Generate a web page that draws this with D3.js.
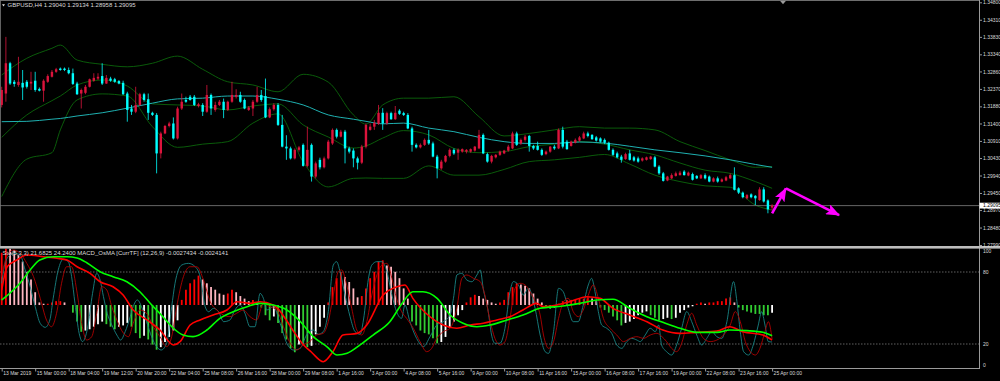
<!DOCTYPE html>
<html>
<head>
<meta charset="utf-8">
<script src="https://cdn.jsdelivr.net/npm/d3@7"></script>
<style>
body { margin: 0; background: #000; }
svg { display: block; }
</style>
</head>
<body>
<script>
// ---- data ----
var symbolTitle = 'GBPUSD,H4  1.29040 1.29134 1.28958 1.29095';
var subTitle = 'Sto(5,3,3) 21.6825 24.2400  MACD_OsMA [CurrTF] (12,26,9) -0.0027434 -0.0024141';
var lastBid = 1.29095;

// open, high, low, close per H4 bar
var candles = [
  [1.3192,1.3243,1.3185,1.3234],[1.3224,1.3383,1.3201,1.3309],[1.3309,1.3313,1.3248,1.3252],[1.3257,1.3262,1.3243,1.3251],
  [1.3248,1.3327,1.3243,1.3257],[1.3254,1.3290,1.3206,1.3241],[1.3257,1.3262,1.3238,1.3243],[1.3252,1.3285,1.3234,1.3257],
  [1.3260,1.3285,1.3229,1.3234],[1.3237,1.3241,1.3230,1.3232],[1.3232,1.3264,1.3201,1.3260],[1.3257,1.3278,1.3254,1.3273],
  [1.3271,1.3290,1.3269,1.3285],[1.3285,1.3296,1.3282,1.3292],[1.3294,1.3297,1.3288,1.3290],[1.3294,1.3297,1.3287,1.3290],
  [1.3290,1.3297,1.3278,1.3281],[1.3281,1.3294,1.3248,1.3251],[1.3252,1.3257,1.3220,1.3222],[1.3224,1.3238,1.3182,1.3234],
  [1.3226,1.3248,1.3222,1.3243],[1.3243,1.3266,1.3241,1.3264],[1.3260,1.3281,1.3257,1.3268],[1.3266,1.3281,1.3262,1.3271],
  [1.3273,1.3309,1.3248,1.3252],[1.3252,1.3276,1.3251,1.3268],[1.3266,1.3271,1.3257,1.3260],[1.3264,1.3268,1.3254,1.3257],
  [1.3259,1.3262,1.3250,1.3252],[1.3254,1.3260,1.3220,1.3222],[1.3224,1.3229,1.3145,1.3178],[1.3182,1.3192,1.3164,1.3173],
  [1.3173,1.3243,1.3169,1.3192],[1.3192,1.3226,1.3189,1.3222],[1.3222,1.3226,1.3201,1.3206],[1.3208,1.3224,1.3150,1.3170],
  [1.3170,1.3173,1.3161,1.3164],[1.3164,1.3169,1.3000,1.3056],[1.3056,1.3117,1.3042,1.3112],[1.3112,1.3136,1.3110,1.3133],
  [1.3133,1.3145,1.3129,1.3140],[1.3140,1.3157,1.3095,1.3098],[1.3098,1.3187,1.3095,1.3182],[1.3182,1.3224,1.3178,1.3201],
  [1.3206,1.3215,1.3198,1.3201],[1.3215,1.3220,1.3204,1.3206],[1.3215,1.3220,1.3189,1.3192],[1.3189,1.3198,1.3185,1.3194],
  [1.3192,1.3197,1.3161,1.3173],[1.3173,1.3248,1.3170,1.3220],[1.3220,1.3224,1.3164,1.3182],[1.3178,1.3201,1.3173,1.3192],
  [1.3192,1.3206,1.3189,1.3201],[1.3201,1.3210,1.3155,1.3178],[1.3178,1.3204,1.3175,1.3201],[1.3201,1.3257,1.3198,1.3220],
  [1.3215,1.3236,1.3210,1.3220],[1.3220,1.3229,1.3198,1.3201],[1.3206,1.3210,1.3180,1.3182],[1.3178,1.3189,1.3175,1.3185],
  [1.3182,1.3206,1.3161,1.3201],[1.3201,1.3243,1.3198,1.3220],[1.3220,1.3234,1.3201,1.3206],[1.3217,1.3266,1.3155,1.3157],
  [1.3157,1.3185,1.3155,1.3180],[1.3180,1.3197,1.3176,1.3192],[1.3192,1.3197,1.3133,1.3136],[1.3136,1.3164,1.3073,1.3075],
  [1.3075,1.3107,1.3038,1.3070],[1.3070,1.3075,1.3039,1.3042],[1.3042,1.3070,1.3039,1.3066],[1.3066,1.3077,1.3061,1.3073],
  [1.3080,1.3084,1.3019,1.3021],[1.3021,1.3131,1.3017,1.3066],[1.3080,1.3084,1.2977,1.2991],[1.2991,1.3033,1.2986,1.3028],
  [1.3038,1.3044,1.3011,1.3017],[1.3017,1.3047,1.3014,1.3042],[1.3042,1.3094,1.3039,1.3089],[1.3084,1.3126,1.3080,1.3122],
  [1.3122,1.3126,1.3098,1.3103],[1.3103,1.3122,1.3101,1.3117],[1.3117,1.3122,1.3028,1.3070],[1.3070,1.3075,1.3056,1.3061],
  [1.3064,1.3070,1.3017,1.3042],[1.3042,1.3047,1.3011,1.3030],[1.3030,1.3080,1.3026,1.3075],[1.3075,1.3140,1.3070,1.3136],
  [1.3122,1.3140,1.3120,1.3131],[1.3131,1.3150,1.3122,1.3142],[1.3139,1.3192,1.3136,1.3170],[1.3170,1.3183,1.3122,1.3140],
  [1.3140,1.3173,1.3136,1.3169],[1.3169,1.3173,1.3150,1.3152],[1.3152,1.3189,1.3150,1.3170],[1.3176,1.3180,1.3164,1.3167],
  [1.3169,1.3173,1.3161,1.3164],[1.3164,1.3169,1.3124,1.3126],[1.3126,1.3131,1.3061,1.3080],[1.3080,1.3084,1.3070,1.3073],
  [1.3073,1.3084,1.3070,1.3080],[1.3080,1.3098,1.3077,1.3094],[1.3094,1.3122,1.3080,1.3084],[1.3084,1.3089,1.3045,1.3047],
  [1.3047,1.3052,1.2986,1.3014],[1.3014,1.3038,1.3010,1.3033],[1.3033,1.3052,1.3030,1.3049],[1.3049,1.3070,1.3045,1.3066],
  [1.3066,1.3070,1.3052,1.3056],[1.3058,1.3070,1.3038,1.3066],[1.3061,1.3070,1.3058,1.3068],[1.3061,1.3068,1.3056,1.3066],
  [1.3061,1.3070,1.3058,1.3068],[1.3064,1.3077,1.3061,1.3075],[1.3070,1.3122,1.3068,1.3108],[1.3108,1.3112,1.3054,1.3056],
  [1.3054,1.3058,1.3030,1.3033],[1.3033,1.3052,1.3028,1.3049],[1.3045,1.3054,1.3042,1.3052],[1.3052,1.3064,1.3049,1.3061],
  [1.3056,1.3066,1.3054,1.3064],[1.3064,1.3080,1.3061,1.3075],[1.3070,1.3117,1.3068,1.3112],[1.3112,1.3117,1.3077,1.3080],
  [1.3084,1.3098,1.3080,1.3094],[1.3094,1.3108,1.3089,1.3103],[1.3105,1.3108,1.3061,1.3077],[1.3077,1.3080,1.3066,1.3070],
  [1.3077,1.3089,1.3064,1.3066],[1.3066,1.3070,1.3049,1.3052],[1.3054,1.3064,1.3051,1.3061],[1.3061,1.3077,1.3058,1.3075],
  [1.3075,1.3080,1.3066,1.3070],[1.3070,1.3126,1.3068,1.3122],[1.3122,1.3131,1.3070,1.3075],[1.3089,1.3094,1.3066,1.3068],
  [1.3077,1.3092,1.3075,1.3089],[1.3086,1.3098,1.3084,1.3094],[1.3092,1.3105,1.3089,1.3101],[1.3098,1.3117,1.3096,1.3112],
  [1.3112,1.3117,1.3101,1.3105],[1.3108,1.3110,1.3094,1.3096],[1.3101,1.3105,1.3089,1.3092],[1.3098,1.3101,1.3086,1.3089],
  [1.3094,1.3098,1.3082,1.3086],[1.3086,1.3089,1.3064,1.3066],[1.3066,1.3070,1.3049,1.3052],[1.3056,1.3061,1.3042,1.3045],
  [1.3047,1.3052,1.3030,1.3038],[1.3040,1.3058,1.3038,1.3054],[1.3056,1.3066,1.3036,1.3038],[1.3045,1.3049,1.3033,1.3036],
  [1.3042,1.3047,1.3030,1.3033],[1.3036,1.3045,1.3033,1.3042],[1.3038,1.3047,1.3036,1.3045],[1.3040,1.3049,1.3038,1.3047],
  [1.3045,1.3049,1.3017,1.3019],[1.3019,1.3023,1.2996,1.3000],[1.3000,1.3004,1.2977,1.2979],[1.2980,1.2993,1.2978,1.2991],
  [1.2986,1.3000,1.2984,1.2995],[1.2993,1.3005,1.2991,1.3000],[1.2995,1.3007,1.2994,1.3002],[1.3005,1.3009,1.2994,1.2995],
  [1.2994,1.3005,1.2992,1.3002],[1.2998,1.3002,1.2980,1.2982],[1.2993,1.2995,1.2984,1.2986],[1.2986,1.2998,1.2984,1.2995],
  [1.2995,1.3000,1.2983,1.2986],[1.2991,1.2994,1.2975,1.2977],[1.2977,1.2989,1.2975,1.2986],[1.2986,1.2991,1.2974,1.2977],
  [1.2977,1.2986,1.2975,1.2983],[1.2980,1.2993,1.2978,1.2989],[1.2986,1.3000,1.2984,1.2995],[1.2995,1.3017,1.2952,1.2954],
  [1.2958,1.2961,1.2942,1.2946],[1.2946,1.2949,1.2930,1.2933],[1.2930,1.2942,1.2927,1.2939],[1.2941,1.2944,1.2930,1.2933],
  [1.2937,1.2939,1.2911,1.2930],[1.2925,1.2961,1.2923,1.2955],[1.2955,1.2961,1.2918,1.2921],[1.2924,1.2927,1.2888,1.2899],
  [1.29040,1.29134,1.28958,1.29095]
];

// bar positions where the band / MA lines were read
var bandIdx = [0,6,12,14,18,24,30,36,42,48,54,60,66,72,78,84,87,91,96,102,108,114,120,126,132,138,144,150,156,162,168,174,180,184];
var bbUpper = [1.3276,1.3323,1.3351,1.3360,1.3318,1.3306,1.3299,1.3309,1.3329,1.3292,1.3257,1.3248,1.3229,1.3278,1.3256,1.3164,1.3138,1.3192,1.3211,1.3211,1.3215,1.3159,1.3105,1.3112,1.3122,1.3131,1.3127,1.3127,1.3122,1.3089,1.3064,1.3038,1.3017,1.3019];
var bbMiddle = [1.3101,1.3164,1.3204,1.3217,1.3248,1.3262,1.3245,1.3195,1.3192,1.3189,1.3178,1.3189,1.3195,1.3136,1.3102,1.3071,1.3077,1.3099,1.3120,1.3108,1.3070,1.3058,1.3061,1.3075,1.3082,1.3089,1.3082,1.3066,1.3052,1.3029,1.3009,1.3000,1.2977,1.2958];
var bbLower = [1.2935,1.3040,1.3058,1.3122,1.3206,1.3223,1.3217,1.3131,1.3073,1.3082,1.3089,1.3141,1.3167,1.3032,1.2962,1.2986,1.2987,1.2986,1.2986,1.3021,1.2995,1.2995,1.3011,1.3033,1.3038,1.3045,1.3053,1.3026,1.2995,1.2977,1.2965,1.2961,1.2911,1.2897];
var maLine = [1.3145,1.3146,1.3152,1.3154,1.3161,1.3170,1.3183,1.3197,1.3209,1.3211,1.3217,1.3217,1.3208,1.3192,1.3164,1.3152,1.3146,1.3139,1.3141,1.3127,1.3117,1.3101,1.3089,1.3084,1.3084,1.3088,1.3085,1.3076,1.3066,1.3058,1.3049,1.3038,1.3025,1.3017];

// OsMA histogram, one value per bar
var osma = [
  0.0041,0.0047,0.0045,0.0043,0.0039,0.0034,0.0026,0.0020,0.0010,0.0002,0.0001,0.0001,0.0002,0.0003,0.0003,0.0002,0.0000,
  -0.0006,-0.0013,-0.0021,-0.0020,-0.0019,-0.0017,-0.0015,-0.0013,-0.0015,-0.0017,-0.0019,-0.0017,-0.0016,-0.0014,-0.0017,
  -0.0022,-0.0026,-0.0024,-0.0027,-0.0031,-0.0035,-0.0033,-0.0029,-0.0025,-0.0020,-0.0012,0.0004,0.0012,0.0017,0.0020,
  0.0023,0.0020,0.0017,0.0014,0.0012,0.0009,0.0008,0.0009,0.0012,0.0010,0.0007,0.0005,0.0003,0.0004,0.0002,-0.0002,
  -0.0008,-0.0012,-0.0009,-0.0014,-0.0022,-0.0027,-0.0034,-0.0037,-0.0031,-0.0031,-0.0033,-0.0032,-0.0023,-0.0017,-0.0010,
  0.0002,0.0014,0.0021,0.0026,0.0022,0.0018,0.0013,0.0006,0.0007,0.0013,0.0021,0.0026,0.0034,0.0035,0.0031,0.0030,0.0026,
  0.0021,0.0013,0.0005,-0.0013,-0.0016,-0.0020,-0.0022,-0.0023,-0.0026,-0.0030,-0.0029,-0.0025,-0.0018,-0.0013,-0.0008,
  -0.0004,0.0002,0.0006,0.0008,0.0007,0.0005,0.0004,0.0002,0.0001,0.0002,0.0004,0.0010,0.0014,0.0017,0.0016,0.0015,0.0013,
  0.0009,0.0005,0.0002,-0.0002,-0.0003,-0.0002,0.0001,0.0003,0.0004,0.0004,0.0004,0.0005,0.0005,0.0006,0.0005,0.0003,
  -0.0002,-0.0004,-0.0006,-0.0009,-0.0012,-0.0016,-0.0014,-0.0013,-0.0011,-0.0008,-0.0006,-0.0005,-0.0008,-0.0010,-0.0012,
  -0.0011,-0.0010,-0.0011,-0.0010,-0.0006,-0.0004,-0.0002,-0.0001,0.0001,0.0002,0.0001,0.0002,0.0002,0.0003,0.0003,0.0005,
  0.0006,0.0002,-0.0002,-0.0004,-0.0005,-0.0006,-0.0007,-0.0007,-0.0008,-0.0008,-0.0006
];

// MACD main and signal lines, [bar, value]
var macdMain = [[0,0.00117],[1.3,0.0030],[3.6,0.00352],[6,0.00392],[10,0.00378],[13.2,0.00366],[15.6,0.00352],[18,0.0030],
  [21.1,0.00248],[23.5,0.00182],[26.6,0.00143],[29,0.00078],[31.4,-0.00039],[34.7,-0.00117],[37.8,-0.00196],[41,-0.00313],
  [42.6,-0.00287],[45,-0.00157],[47.4,-0.00117],[50.5,-0.00078],[53.8,-0.00039],[56.2,0.00026],[59.3,0.00013],[61.7,0.00026],
  [64.8,0],[66,-0.0003],[68,-0.0012],[70,-0.0022],[72,-0.0031],[74,-0.0037],[76.8,-0.00444],[79.1,-0.00366],[81.5,-0.00235],
  [84.9,-0.00222],[87.2,-0.00157],[91.1,0.00078],[94.4,0.00143],[96.3,0.00157],[98.2,0.00052],[102.3,-0.00092],
  [105.4,-0.00157],[108.7,-0.00182],[111.9,-0.00157],[115,-0.00143],[118.3,-0.00117],[121.4,-0.00092],[124.5,-0.00039],
  [127.8,0.00013],[129.3,-0.00013],[132.6,0],[135.7,0.00026],[139.8,0.00065],[142.9,0.00052],[146,-0.00026],[150,-0.00078],
  [154.1,-0.00131],[157.9,-0.00196],[162,-0.00222],[166,-0.00214],[170.8,-0.00204],[173.9,-0.0017],[177,-0.00209],
  [181.8,-0.00235],[184,-0.0027434]];
var macdSignal = [[0,0.00039],[2,0.00094],[4.4,0.00172],[6.8,0.00274],[9.1,0.00352],[12.3,0.00378],[15.6,0.00378],[18,0.00368],
  [20.4,0.00329],[23.5,0.00261],[26.6,0.00222],[29.9,0.00182],[33,0.00104],[35.4,0.00016],[38.5,-0.00092],[41,-0.00182],
  [43.3,-0.00235],[45.7,-0.00248],[49,-0.00196],[52.1,-0.00104],[55.3,-0.00052],[58.6,-0.00013],[61.7,0.00013],[64.8,0],
  [68.1,-0.00039],[71.2,-0.00125],[74.4,-0.00248],[77.7,-0.00327],[80.1,-0.00392],[82.5,-0.00378],[85.6,-0.00313],
  [88.7,-0.00235],[92.7,-0.00131],[95.9,0.00026],[98.2,0.00104],[100.6,0.00104],[104,0.00052],[107.1,-0.00078],
  [110.2,-0.00143],[113.5,-0.0017],[116.6,-0.00157],[120.7,-0.00117],[124.5,-0.00078],[128.6,-0.00026],[134,-0.00008],
  [138.1,0.00013],[142.2,0.00039],[146,0.00045],[150,-0.00026],[154.1,-0.00092],[157.9,-0.00135],[162,-0.00182],
  [166,-0.00214],[170.8,-0.00214],[173.9,-0.00196],[178,-0.00201],[181.8,-0.00214],[184,-0.0024141]];

// Stochastic (5,3,3) main and signal, [bar, value]
var stochMain = [[0,70.6],[0.8,87.2],[2,94.2],[3.2,95.6],[4.4,94.2],[5.6,81.7],[6.8,67.8],[8,51.1],[9.2,37.2],[10.4,33.9],
  [11.5,40],[12.3,58.1],[13.5,81.7],[14.7,90.6],[15.9,88.6],[16.7,76.1],[17.5,53.9],[18.5,28.9],[19.3,22],[20.5,33.1],
  [21.7,62.2],[22.7,78.9],[23.5,73.3],[24.3,59.5],[25.2,45.6],[26.3,35.9],[27.5,27.5],[28.4,23.3],[29.5,30.3],[30.7,42.8],
  [31.4,51.1],[32.4,56.7],[33.4,51.1],[34.6,38.6],[35.8,26.1],[37,17.8],[38.1,15],[39.4,20.6],[40.6,51.1],[41.4,70.6],
  [43,85.8],[44.6,87.2],[46.2,84.4],[47.4,76.1],[48.6,51.1],[49.4,46.9],[50.6,49.7],[51.8,46.9],[53,38.6],[54.5,40],
  [55.7,48.3],[56.9,52.5],[58.1,45.6],[59.3,34.4],[60.5,34.4],[61.7,62.2],[62.5,58.1],[63.3,48.3],[64.9,51.1],[66.5,37.2],
  [68.1,20.6],[69.7,15],[71.3,16.4],[72.8,27.5],[74.4,31.7],[75.6,28.1],[76.8,30.3],[78,47],[79.2,85.8],[80,88.6],
  [80.8,80.3],[82,60.8],[83.2,42.8],[84.4,30.3],[85.6,28.1],[86.4,40],[87.6,74.7],[88.4,85.8],[89.6,88.6],[90.8,88.6],
  [92,80.3],[93.2,60.8],[94.3,47],[95.5,41.4],[96.3,52.5],[97.5,38.6],[99.1,24.7],[100.7,17.8],[102.3,26.1],[103.9,35.8],
  [105.5,38.6],[107.1,44.2],[107.9,58.1],[108.7,77.5],[109.9,78.9],[111.1,73.3],[112.3,71.9],[113.5,77.5],[114.3,81.7],
  [115,66.4],[116.2,47],[117,27.5],[117.8,20.6],[119,20.6],[120.2,33.1],[121.4,63.6],[122.2,72],[123.4,69.2],[124.6,60.8],
  [125.8,66.4],[127.4,49.7],[128.6,27.5],[129.8,13.6],[130.6,12.2],[131.8,30.3],[133,66.4],[134.1,63.6],[135.3,49.7],
  [136.5,38.6],[137.7,38.6],[138.9,52.5],[140.1,69.2],[140.9,74.7],[141.7,63.6],[142.5,47],[143.3,35.8],[144.5,33.1],
  [145.7,28.9],[146.9,19.2],[148.1,16.4],[149.3,22],[150.5,24.7],[151.7,23.3],[152.5,22],[153.7,27.5],[154.9,33.1],
  [156.1,30.3],[156.9,35.8],[157.6,19.2],[158.8,13.6],[160,10.8],[161.2,19.2],[162.4,33.1],[163.6,47],[164.8,38.6],
  [166,27.5],[167.2,19.2],[168.4,24.7],[169.6,30.3],[170.8,26.1],[172,24.7],[173.2,38.6],[174.8,72],[175.6,55.3],
  [176.4,30.3],[177.2,13.6],[178.4,10.8],[179.5,19.2],[180.7,35.8],[181.5,47],[182.3,35.8],[183.1,22],[184,21.68]];
var stochSignal = [[0,76.1],[1.2,92.8],[2.8,98.3],[4.4,95.6],[6,87.2],[7.6,76.1],[9.2,58.1],[10.7,40],[11.9,34.4],[13.1,45.6],
  [14.3,70.6],[15.5,84.4],[16.7,84.4],[17.9,65],[19.1,37.2],[20.3,23.3],[21.5,26.1],[22.7,45.6],[23.9,67.8],[25.1,65],
  [26.3,51.1],[27.5,40],[29.1,28.9],[30.3,26.1],[31.4,37.2],[33,48.3],[34.6,45.6],[36.2,34.4],[37.8,26.1],[39.4,17.8],
  [40.6,26.1],[41.8,51.1],[43.4,76.1],[45,84.4],[46.6,84.4],[48.2,73.3],[49.8,55.3],[51.4,48.3],[52.9,44.2],[54.5,42.8],
  [56.1,45.6],[57.7,48.3],[59.3,42.8],[60.9,40],[62.5,53.9],[64.1,51.1],[65.7,48.3],[67.3,34.4],[68.9,20.6],[70.5,15],
  [72,19.2],[73.6,22],[75.2,27.5],[76.8,28.9],[78,38.6],[79.2,60.8],[80.4,80.3],[81.2,81.7],[82.4,69.2],[83.6,49.7],
  [84.8,31.7],[86,27.5],[87.2,38.6],[88.4,60.8],[89.6,77.5],[90.8,85.8],[92,87.2],[93.2,74.7],[94.3,58.1],[95.5,47],
  [96.7,41.4],[98.3,33.1],[99.9,22],[101.5,13.6],[102.7,16.4],[103.9,24.7],[105.5,30.3],[107.1,33.1],[108.7,49.7],
  [109.9,74.7],[111.1,77.5],[112.7,74.7],[114.3,71.9],[115.4,60.8],[116.6,40],[117.8,24.7],[119,19.2],[120.2,22],
  [121.4,41.4],[122.6,66.4],[123.8,70.6],[125,69.2],[126.2,63.6],[127.4,55.3],[128.6,44.2],[129.4,27.5],[130.6,16.4],
  [131.8,22],[133,41.4],[134.2,55.3],[135.3,58.1],[136.5,47],[137.7,42.8],[138.9,48.3],[140.1,60.8],[141.3,69.2],
  [142.5,58.1],[143.7,41.4],[145.3,33.1],[146.9,27.5],[148.5,22],[150.1,24.7],[151.7,26.1],[153.3,24.7],[154.9,27.5],
  [156.5,28.9],[157.7,26.1],[158.8,22],[160,16.4],[161.2,13.6],[162.4,20.6],[163.6,35.8],[164.8,45.6],[166,35.8],
  [167.6,24.7],[169.2,22],[170.8,23.3],[172.4,27.5],[174,35.8],[175.2,47],[176.4,38.6],[177.6,22],[178.8,13.6],
  [180,10.8],[181.1,16.4],[182.3,30.3],[183.1,38.6],[184,24.24]];

var priceTicks = [1.34800,1.34310,1.33830,1.33340,1.32860,1.32370,1.31880,1.31400,1.30910,1.30430,1.29940,1.29450,1.28970,1.28480,1.27990];
var timeLabels = ['13 Mar 2019','15 Mar 00:00','18 Mar 04:00','19 Mar 12:00','20 Mar 20:00','22 Mar 04:00','25 Mar 08:00',
  '26 Mar 16:00','28 Mar 00:00','29 Mar 08:00','1 Apr 16:00','3 Apr 00:00','4 Apr 08:00','5 Apr 16:00','9 Apr 00:00',
  '10 Apr 08:00','11 Apr 16:00','15 Apr 00:00','16 Apr 08:00','17 Apr 16:00','19 Apr 00:00','22 Apr 08:00','23 Apr 16:00','25 Apr 00:00'];
var timeIdx = d3.range(0, 185, 8);
var subTicks = [100, 80, 20, 0];
var subLevels = [80, 20];
// hand-drawn forecast arrows, [bar, price]
var arrowPts = [[184, 1.2888], [187.3, 1.2958], [200, 1.2883]];

// ---- layout ----
var axisX = 979.5;
var fontFam = '"Liberation Sans Narrow", "Arial Narrow", "Liberation Sans", Arial, sans-serif';
var txtCol = '#dadada', axCol = '#9a9a9a';
var bullCol = '#dc143c', bearCol = '#00ffff';

var svg = d3.select('body').append('svg').attr('width', 1000).attr('height', 381);
svg.append('rect').attr('width', 1000).attr('height', 381).attr('fill', '#000');

var x = d3.scaleLinear().domain([0, 184]).range([1.7, 772.1]);
var yP = d3.scaleLinear().domain([1.2799, 1.348]).range([245, 2.3]);
var yS = d3.scaleLinear().domain([0, 100]).range([368, 248]);
var yM = d3.scaleLinear().domain([0, 0.001]).range([305, 305 - 12.77]);

var defs = svg.append('defs');
defs.append('clipPath').attr('id', 'clipMain').append('rect').attr('x', 0).attr('y', 0).attr('width', 979).attr('height', 246);
defs.append('clipPath').attr('id', 'clipSub').append('rect').attr('x', 0).attr('y', 248.8).attr('width', 979).attr('height', 119.2);
defs.append('marker').attr('id', 'head').attr('markerUnits', 'userSpaceOnUse')
  .attr('markerWidth', 14).attr('markerHeight', 11).attr('refX', 13).attr('refY', 5.5).attr('orient', 'auto')
  .append('path').attr('d', 'M0,0 L14,5.5 L0,11 L3,5.5 Z').attr('fill', '#ff00ff');

var main = svg.append('g').attr('clip-path', 'url(#clipMain)');
var sub = svg.append('g').attr('clip-path', 'url(#clipSub)');

// ---- main window ----
function bandPath(vals) {
  return d3.line().x(function (d, i) { return x(bandIdx[i]); }).y(function (d) { return yP(d); })
    .curve(d3.curveMonotoneX)(vals);
}
[bbUpper, bbMiddle, bbLower].forEach(function (b) {
  main.append('path').attr('d', bandPath(b)).attr('fill', 'none').attr('stroke', '#0b650b').attr('stroke-width', 0.9);
});
main.append('path').attr('d', bandPath(maLine)).attr('fill', 'none').attr('stroke', '#1fb0b0').attr('stroke-width', 1);

// bid line
main.append('line').attr('x1', 0).attr('x2', 979).attr('y1', yP(lastBid)).attr('y2', yP(lastBid))
  .attr('stroke', '#808080').attr('stroke-width', 0.8);

var bar = main.selectAll('g.bar').data(candles).enter().append('g').attr('class', 'bar');
bar.append('line')
  .attr('x1', function (d, i) { return x(i); }).attr('x2', function (d, i) { return x(i); })
  .attr('y1', function (d) { return yP(d[1]); }).attr('y2', function (d) { return yP(d[2]); })
  .attr('stroke', function (d) { return d[3] >= d[0] ? bullCol : bearCol; }).attr('stroke-width', 0.8);
bar.append('rect')
  .attr('x', function (d, i) { return x(i) - 1.2; }).attr('width', 2.4)
  .attr('y', function (d) { return yP(Math.max(d[0], d[3])); })
  .attr('height', function (d) { return Math.max(0.8, yP(Math.min(d[0], d[3])) - yP(Math.max(d[0], d[3]))); })
  .attr('fill', function (d) { return d[3] >= d[0] ? bullCol : bearCol; });

// arrows
for (var k = 0; k < arrowPts.length - 1; k++) {
  svg.append('line')
    .attr('x1', x(arrowPts[k][0])).attr('y1', yP(arrowPts[k][1]))
    .attr('x2', x(arrowPts[k + 1][0])).attr('y2', yP(arrowPts[k + 1][1]))
    .attr('stroke', '#ff00ff').attr('stroke-width', 2.6).attr('marker-end', 'url(#head)');
}

svg.append('path').attr('d', 'M2,4.2 L5,4.2 L3.5,6.4 Z').attr('fill', txtCol);
svg.append('text').attr('x', 7.5).attr('y', 7.2).attr('font-family', fontFam).attr('font-size', 6)
  .attr('fill', txtCol).text(symbolTitle);

// ---- sub window ----
subLevels.forEach(function (v) {
  sub.append('line').attr('x1', 0).attr('x2', 979).attr('y1', yS(v)).attr('y2', yS(v))
    .attr('stroke', '#8a8a8a').attr('stroke-width', 0.7).attr('stroke-dasharray', '1.5,1.5');
});

function osmaColor(v, p) {
  if (v >= 0) return v >= p ? '#ff0000' : '#ffb6c1';
  return v <= p ? '#32cd32' : '#ffffff';
}
sub.selectAll('line.osma').data(osma).enter().append('line').attr('class', 'osma')
  .attr('x1', function (d, i) { return x(i); }).attr('x2', function (d, i) { return x(i); })
  .attr('y1', yM(0)).attr('y2', function (d) { return yM(d); })
  .attr('stroke', function (d, i) { return osmaColor(d, i ? osma[i - 1] : d); })
  .attr('stroke-width', 1.8);

var stLine = d3.line().x(function (d) { return x(d[0]); }).y(function (d) { return yS(d[1]); }).curve(d3.curveMonotoneX);
sub.append('path').attr('d', stLine(stochMain)).attr('fill', 'none').attr('stroke', '#188484').attr('stroke-width', 0.9);
sub.append('path').attr('d', stLine(stochSignal)).attr('fill', 'none').attr('stroke', '#b00000').attr('stroke-width', 0.9);

var mLine = d3.line().x(function (d) { return x(d[0]); }).y(function (d) { return yM(d[1]); }).curve(d3.curveMonotoneX);
sub.append('path').attr('d', mLine(macdMain)).attr('fill', 'none').attr('stroke', '#ff0000').attr('stroke-width', 1.6);
sub.append('path').attr('d', mLine(macdSignal)).attr('fill', 'none').attr('stroke', '#00ff00').attr('stroke-width', 1.6);

svg.append('text').attr('x', 2.5).attr('y', 254.5).attr('font-family', fontFam).attr('font-size', 6)
  .attr('fill', txtCol).text(subTitle);

// ---- frame ----
svg.append('line').attr('x1', 0).attr('x2', 979.5).attr('y1', 0.5).attr('y2', 0.5).attr('stroke', '#6e6e6e');
svg.append('line').attr('x1', 0.5).attr('x2', 0.5).attr('y1', 0).attr('y2', 246).attr('stroke', '#7a7a7a').attr('stroke-width', 0.8);
svg.append('line').attr('x1', axisX).attr('x2', axisX).attr('y1', 0).attr('y2', 369).attr('stroke', axCol);
svg.append('rect').attr('x', 0).attr('y', 246).attr('width', 1000).attr('height', 2.6).attr('fill', '#bdbdbd');
svg.append('line').attr('x1', 0).attr('x2', axisX).attr('y1', 368.5).attr('y2', 368.5).attr('stroke', axCol);
svg.append('path').attr('d', 'M780,0.8 L786,0.8 L783,4.2 Z').attr('fill', '#9a9a9a');

// price axis
var pAx = svg.append('g').attr('transform', 'translate(' + axisX + ',0)')
  .call(d3.axisRight(yP).tickValues(priceTicks).tickSize(2.5).tickPadding(1).tickFormat(d3.format('.5f')));
pAx.attr('font-family', fontFam).attr('font-size', 5);
pAx.select('.domain').remove();
pAx.selectAll('line').attr('stroke', axCol);
pAx.selectAll('text').attr('fill', txtCol);

// bid label
svg.append('rect').attr('x', axisX).attr('y', yP(lastBid) - 2.9).attr('width', 20.5).attr('height', 5.8).attr('fill', '#fff');
svg.append('text').attr('x', 983).attr('y', yP(lastBid)).attr('dy', '0.34em').attr('font-family', fontFam)
  .attr('font-size', 5).attr('fill', '#000').text(d3.format('.5f')(lastBid));

// sub axis labels
svg.selectAll('text.sub').data(subTicks).enter().append('text').attr('class', 'sub')
  .attr('x', 983).attr('y', function (d) { return Math.min(365.6, Math.max(251, yS(d))); }).attr('dy', '0.34em')
  .attr('font-family', fontFam).attr('font-size', 5).attr('fill', txtCol).text(function (d) { return d; });

// time axis
var tAx = svg.append('g').attr('transform', 'translate(0,368.5)')
  .call(d3.axisBottom(x).tickValues(timeIdx).tickSize(3).tickFormat(function (d, i) { return timeLabels[i]; }));
tAx.attr('font-family', fontFam).attr('font-size', 5);
tAx.select('.domain').remove();
tAx.selectAll('line').attr('stroke', axCol);
tAx.selectAll('text').attr('fill', txtCol).attr('text-anchor', 'start').attr('x', 1).attr('y', 3.2).attr('dy', '0.72em');
</script>
</body>
</html>
